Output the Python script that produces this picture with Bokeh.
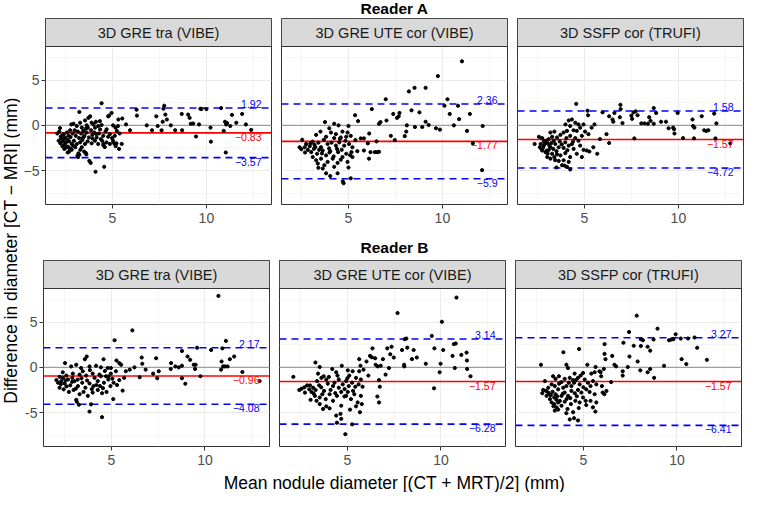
import math
from bokeh.plotting import figure
from bokeh.models import Range1d, FixedTicker, Span, Grid, LinearAxis
from bokeh.layouts import row, column
from bokeh.embed import file_html
from bokeh.resources import INLINE
from bokeh.core.properties import value

FONT = "Liberation Sans"

methods = ["3D GRE tra (VIBE)", "3D GRE UTE cor (VIBE)", "3D SSFP cor (TRUFI)"]
reader_titles = ["Reader A", "Reader B"]

upper_A = [1.92, 2.36, 1.58]
bias_A = [-0.83, -1.77, -1.57]
lower_A = [-3.57, -5.9, -4.72]
upper_B = [2.17, 3.14, 3.27]
bias_B = [-0.96, -1.57, -1.57]
lower_B = [-4.08, -6.28, -6.41]

x_ticks = [5, 10]
x_minor = [2.5, 7.5, 12.5]
y_ticks = [-5, 0, 5]
y_minor = [-7.5, -2.5, 2.5, 7.5]

# (mean diameter, difference) pairs
pts_A1 = [
    (4.43, 2.45), (4.96, 1.37), (4.83, 1.08), (5.53, 0.76), (5.32, 0.65), (5.73, 0.10), (5.94, -0.54),
    (6.29, 1.73), (6.31, 1.08), (6.83, 0.00), (7.11, -0.54), (7.34, 1.00), (7.41, -0.07), (7.62, -0.54),
    (7.68, 0.40), (7.76, 2.17), (7.72, 1.84), (7.82, 1.19), (7.90, 0.65), (8.11, 0.00), (8.34, -0.54),
    (8.69, 1.26), (8.71, -0.54), (9.03, 1.19), (9.11, 0.83), (9.17, 0.18), (9.30, 0.20), (9.45, -1.23),
    (9.61, 0.10), (9.68, 1.84), (9.73, 1.80), (10.00, 1.80), (10.22, -0.25), (10.24, -1.80), (10.78, 1.91),
    (10.92, -0.61), (10.99, 0.40), (11.05, 0.10), (11.10, 0.25), (11.03, -3.00), (11.27, -0.07),
    (11.36, 1.16), (11.59, 0.29), (11.90, 1.26), (12.10, 0.10), (12.38, -0.50),
    (4.11, -5.13), (4.57, -4.58), (3.78, -3.93), (3.85, -4.15), (3.20, -3.10), (3.15, -3.35), (3.25, -3.25),
    (3.18, -3.50), (3.50, -2.90), (3.59, -3.05), (3.62, -3.20), (2.70, -2.90), (2.63, -3.00), (2.84, -2.70),
    (4.53, -2.20), (4.60, -2.40), (4.53, -2.05), (5.06, -1.90), (5.15, -2.10), (5.18, -2.30), (5.36, -2.60),
    (5.50, -2.05), (2.08, -0.90), (2.22, -0.30),
    (3.25, 1.48), (3.82, 1.00), (3.73, 0.83), (3.55, 0.54), (3.90, 0.30), (4.13, 0.40), (4.34, 0.47),
    (4.78, 1.00), (2.82, 0.10), (2.94, 0.18), (3.11, -0.07), (3.29, 0.29), (3.38, -0.25), (3.64, 0.00),
    (3.70, -0.25), (4.00, 0.10), (4.08, -0.25), (4.25, -0.07), (4.43, 0.04), (4.70, -0.43), (5.04, 0.00),
    (5.17, -0.25), (5.30, -0.07), (5.24, -0.61),
    (2.18, -0.69), (2.32, -1.16), (2.29, -1.44), (2.41, -0.97), (2.50, -1.34), (2.59, -0.79), (2.68, -1.16),
    (2.76, -0.54), (2.89, -0.90), (3.00, -0.54), (3.06, -1.16), (3.17, -0.69), (3.24, -1.41), (3.34, -0.90),
    (3.46, -0.61), (3.52, -1.16), (3.64, -0.79), (3.76, -1.34), (3.87, -0.54), (3.94, -1.05), (4.04, -0.79),
    (4.17, -1.34), (4.29, -0.90), (4.39, -1.52), (4.52, -1.16), (4.64, -0.69), (4.78, -1.26), (4.87, -0.97),
    (4.99, -1.41), (5.13, -1.16), (5.39, -0.90),
    (2.15, -1.70), (2.24, -1.99), (2.36, -1.77), (2.47, -2.13), (2.54, -1.88), (2.64, -2.35), (2.71, -1.77),
    (2.85, -2.06), (2.96, -1.70), (3.03, -2.42), (3.11, -2.06), (3.29, -1.88), (3.38, -2.42), (3.41, -1.62),
    (3.55, -2.06), (3.69, -1.77), (3.90, -1.99), (4.08, -1.70), (4.25, -2.06), (4.46, -1.70), (4.69, -1.88),
    (4.87, -2.06), (5.04, -1.70), (5.22, -1.99),
    (2.40, -1.55), (2.55, -2.45), (2.62, -1.60), (2.78, -1.30), (2.92, -2.25), (2.35, -2.30), (2.45, -2.60),
    (2.75, -2.55), (3.30, -2.70), (3.45, -1.35), (3.95, -1.45), (4.15, -0.95), (4.35, -0.45), (3.60, -0.35),
    (2.26, -1.25),
]

pts_A2 = [
    (11.04, 7.08), (9.76, 5.45), (8.22, 3.75), (8.52, 4.15), (9.11, 4.15), (6.99, 2.89), (6.25, 1.80),
    (5.36, 1.12), (5.52, 0.47), (6.71, 0.36), (6.63, 0.18), (7.03, 0.54), (7.39, 1.26), (7.59, 0.83),
    (7.68, 1.00), (7.72, 1.37), (8.36, 1.66), (8.78, 1.44), (8.11, 0.00), (8.08, -0.69), (8.54, -0.18),
    (8.93, -0.18), (9.11, 0.40), (9.27, 0.04), (9.66, -0.32), (9.87, -0.47), (10.11, 2.17), (10.27, 2.89),
    (10.39, 1.26), (10.61, 0.00), (10.83, 2.17), (10.89, 0.69), (11.46, 1.26), (11.31, -0.61),
    (11.62, -1.99), (12.14, -0.07), (12.11, -4.95), (7.26, -1.16), (7.47, -1.62), (8.00, -1.19),
    (6.50, -1.77), (6.54, -2.96), (6.63, -2.92), (6.41, -2.96), (6.10, -3.68), (6.18, -2.96), (6.04, -1.99),
    (6.11, -0.90), (5.83, -1.44), (5.83, -2.78), (5.66, -1.44), (5.48, -2.85), (5.38, -1.62), (5.13, -5.85),
    (5.01, -4.66), (4.71, -6.20), (4.75, -6.40), (4.43, -5.30), (4.04, -5.60), (3.82, -5.30), (3.41, -4.69),
    (3.64, -4.77), (2.55, -1.59), (2.41, -2.42), (2.50, -2.64),
    (3.76, 0.36), (4.25, 0.18), (4.48, 0.00), (5.01, -0.07), (3.99, -0.32), (3.52, -0.69), (4.08, -0.79),
    (4.34, -0.97), (4.69, -0.69), (4.96, -0.79), (3.29, -1.05), (3.82, -1.26), (4.25, -1.41), (4.60, -1.34),
    (4.89, -1.26), (5.13, -1.16), (2.99, -1.99), (3.20, -2.13), (3.41, -1.91), (3.55, -2.42), (3.90, -2.06),
    (4.11, -1.91), (4.34, -2.24), (4.52, -1.88), (4.78, -2.24), (5.04, -2.06), (5.22, -2.42), (2.85, -2.71),
    (3.03, -2.96), (3.17, -2.60), (3.34, -3.14), (3.64, -2.78), (3.82, -3.32), (4.04, -2.85), (4.22, -3.43),
    (4.46, -2.96), (4.69, -3.50), (4.89, -3.14), (5.17, -2.96), (3.11, -3.50), (3.29, -3.86), (3.55, -3.68),
    (3.90, -4.04), (4.17, -3.68), (4.43, -4.15), (4.60, -3.79), (4.96, -4.04), (5.22, -3.50), (3.73, -4.40),
    (4.25, -4.58), (3.38, -4.22), (2.76, -2.06), (2.68, -2.42),
    (2.95, -2.30), (3.10, -1.80), (3.45, -2.70), (3.70, -1.60), (3.98, -2.55), (4.40, -2.60), (4.55, -1.50),
    (4.85, -1.70), (5.10, -3.30), (3.60, -3.10), (4.00, -3.00), (3.25, -2.40), (4.65, -2.70), (2.70, -3.00),
]

pts_A3 = [
    (4.57, 2.38), (5.17, 1.62), (5.20, 1.12), (5.97, 1.44), (6.32, 1.01), (6.60, 1.37), (6.92, 2.27),
    (6.93, 1.80), (6.89, 0.90), (6.50, 0.65), (6.54, 0.40), (7.03, 0.25), (7.50, 1.08), (7.54, 0.72),
    (7.62, 1.44), (7.73, 1.55), (7.83, 1.12), (8.03, 0.22), (8.20, 0.22), (8.45, 0.90), (8.38, 0.18),
    (8.52, 0.50), (8.69, 1.91), (8.69, 0.18), (8.82, 1.37), (9.08, 0.40), (9.34, 0.40), (9.48, -0.32),
    (9.72, -0.25), (9.77, -0.43), (9.79, -0.90), (9.96, 1.37), (10.25, -1.41), (10.75, 0.65),
    (10.78, -0.07), (10.83, -1.44), (10.85, -0.25), (11.24, 1.01), (11.37, -0.54), (11.48, -0.61),
    (11.59, -0.54), (11.90, 1.30), (11.97, -1.44), (12.02, 0.22), (12.76, -1.99), (7.66, -1.44),
    (6.32, -1.95), (6.18, -0.97), (5.83, -1.52), (5.69, -3.14), (5.54, 0.10), (5.39, -0.25), (5.13, -2.78),
    (5.27, -2.89), (4.96, -2.71), (5.48, -2.42), (4.87, -3.50), (4.25, -4.87), (4.08, -4.58), (3.95, -4.45),
    (3.52, -4.66), (2.36, -2.06),
    (4.17, 0.54), (4.34, 0.65), (4.52, 0.29), (4.69, 0.10), (4.96, 0.10), (4.78, -0.25), (4.00, 0.10),
    (4.25, -0.07), (4.43, -0.54), (4.60, -0.61), (4.08, -0.61), (5.04, -0.69), (5.22, -0.97), (4.87, -1.16),
    (3.90, -0.79), (3.73, -1.05), (4.25, -1.16), (4.52, -1.41), (4.69, -1.70), (3.55, -1.34), (3.29, -1.26),
    (3.11, -1.52), (2.59, -1.26), (2.76, -1.41), (2.99, -1.70), (3.38, -1.70), (3.69, -1.77), (3.99, -1.88),
    (4.34, -2.06), (4.78, -2.24), (2.68, -2.06), (2.85, -2.24), (3.06, -1.99), (3.20, -2.42), (3.46, -2.06),
    (3.64, -2.42), (3.90, -2.49), (4.17, -2.24), (4.43, -2.60), (2.76, -2.78), (2.94, -2.96), (3.11, -2.71),
    (3.29, -3.14), (3.52, -2.85), (3.73, -3.32), (3.99, -3.07), (4.25, -3.50), (4.60, -3.14), (3.03, -3.50),
    (3.20, -3.68), (3.41, -3.50), (3.64, -3.93), (3.90, -3.86), (4.17, -4.04), (3.82, -4.40), (2.64, -2.42),
    (2.85, -1.77), (3.20, -0.79), (3.41, -0.69),
    (2.80, -2.50), (2.90, -2.05), (3.00, -2.80), (3.15, -2.25), (3.35, -2.60), (3.55, -3.20), (2.72, -2.60),
    (3.05, -3.10), (3.25, -1.95), (3.80, -2.10), (4.05, -1.40), (4.40, -1.80), (4.10, -2.75), (3.45, -3.85),
]

pts_B1 = [
    (10.72, 7.90), (6.12, 4.09), (5.17, 3.00), (11.12, 2.93), (9.58, 2.17), (8.77, 1.81), (10.33, 1.92),
    (10.93, 2.10), (9.07, 1.20), (9.21, 0.83), (9.40, 0.29), (9.50, 0.29), (9.47, -0.18), (8.77, 0.18),
    (8.42, 0.10), (8.60, 0.00), (8.19, 0.47), (8.17, -0.18), (7.39, 1.01), (7.53, -0.43), (7.45, -1.20),
    (7.23, -0.69), (6.83, -0.25), (6.65, 0.40), (6.62, 1.09), (6.51, -1.09), (8.77, -1.20), (8.95, -1.81),
    (9.76, -0.98), (10.86, -0.25), (10.89, 0.65), (10.97, 0.10), (11.07, 0.10), (11.21, 0.10), (11.33, 0.90),
    (11.56, 1.20), (12.00, -0.51), (12.92, -1.52), (5.10, -3.51), (5.60, -2.57), (4.50, -5.51),
    (3.83, -4.89), (3.26, -4.13), (3.91, -4.09), (3.12, -3.59), (3.15, -3.80),
    (3.68, 1.20), (3.58, 0.90), (2.52, 0.47), (2.85, 0.10), (3.12, 0.29), (3.38, -0.07), (3.83, 0.10),
    (4.18, 0.18), (4.44, 0.00), (4.58, 0.90), (4.80, -0.07), (5.27, 0.76), (5.42, 0.47), (5.52, 0.29),
    (5.77, -0.43), (5.98, -0.25), (6.23, 0.00), (5.24, -0.43), (4.97, -0.69), (4.71, -0.98), (4.36, -0.80),
    (4.00, -0.69), (3.65, -0.91), (3.30, -0.80), (2.94, -0.69), (2.59, -0.91), (2.23, -1.05), (2.06, -1.41),
    (2.15, -1.70), (2.32, -1.52), (2.50, -1.78), (2.68, -1.34), (2.80, -1.99), (3.03, -1.52), (3.21, -2.07),
    (3.44, -1.70), (3.61, -2.25), (3.83, -1.78), (4.04, -2.07), (4.27, -1.52), (4.39, -2.07), (4.60, -1.70),
    (4.83, -1.34), (4.95, -2.07), (5.12, -1.70), (5.42, -1.41), (5.68, -1.16), (2.23, -2.25), (2.45, -2.43),
    (2.73, -2.72), (2.98, -2.50), (3.30, -2.97), (3.51, -2.72), (3.74, -3.15), (4.00, -2.79), (4.27, -2.50),
    (4.50, -2.86), (4.74, -2.72), (2.91, -1.16), (2.41, -1.16), (4.10, -1.16), (4.44, -0.98), (3.47, -0.43),
    (4.97, -0.07),
    (2.30, -1.85), (2.60, -2.10), (2.90, -1.60), (3.10, -2.35), (3.40, -1.20), (3.70, -1.45), (3.95, -2.40),
    (4.20, -1.95), (4.55, -2.30), (4.85, -1.00), (5.30, -1.95), (2.55, -1.45), (3.20, -1.35), (3.85, -0.30),
    (4.65, -0.40), (5.05, -1.25), (2.40, -0.55),
]

pts_B2 = [
    (10.83, 7.72), (10.05, 5.04), (7.68, 6.01), (9.51, 3.48), (8.06, 3.12), (8.15, 3.19), (9.65, 2.10),
    (10.12, 1.92), (10.62, 1.27), (10.69, 2.57), (10.79, 2.64), (11.09, 1.38), (11.37, 1.63), (11.39, 0.76),
    (11.40, -0.18), (11.58, -0.98), (10.74, -0.07), (9.98, 0.40), (9.93, -0.54), (9.63, -2.32), (9.19, 0.40),
    (8.71, 1.09), (8.45, 0.91), (8.54, 1.92), (8.20, 2.18), (7.92, 1.92), (8.03, 0.29), (8.04, 0.11),
    (7.36, 2.28), (7.13, 2.10), (7.29, 1.45), (7.48, 1.09), (7.22, -0.07), (6.90, 0.91), (7.04, -0.80),
    (6.62, 0.11), (6.78, 0.18), (6.34, 2.10), (6.21, 1.27), (6.30, 1.12), (6.48, 1.01), (6.51, 0.29),
    (6.02, 0.65), (6.12, -0.91), (6.69, -1.41), (6.73, -2.14), (6.60, -3.22), (6.69, -3.88), (5.70, 0.18),
    (5.63, 0.91), (5.86, -0.25), (5.25, -6.30), (4.89, -7.39), (4.44, -6.12), (4.67, -5.69), (4.63, -5.14),
    (4.40, -5.33), (2.11, -1.05), (2.43, -2.50),
    (3.29, 0.54), (3.52, 0.04), (4.70, 0.18), (4.19, -0.18), (4.40, -0.54), (4.47, -0.91), (5.02, -0.33),
    (5.10, -0.91), (5.28, -0.43), (5.46, -1.16), (5.63, -0.43), (5.72, -1.34), (3.43, -0.69), (3.61, -1.16),
    (3.73, -0.98), (3.87, -1.34), (4.01, -1.05), (4.31, -1.70), (4.54, -1.34), (4.75, -1.88), (4.93, -1.52),
    (5.07, -2.07), (5.25, -1.70), (5.42, -2.14), (5.60, -1.88), (5.81, -2.14), (3.38, -1.52), (3.49, -1.99),
    (2.85, -1.99), (2.96, -2.43), (3.08, -2.72), (3.17, -2.25), (3.26, -3.15), (3.52, -3.33), (3.66, -2.97),
    (3.84, -3.51), (4.05, -2.97), (4.23, -3.70), (4.44, -3.15), (4.67, -2.72), (4.84, -3.22), (5.02, -2.72),
    (5.19, -3.51), (5.37, -2.97), (5.55, -3.88), (5.72, -3.15), (5.77, -4.06), (5.14, -4.67), (3.87, -4.31),
    (4.05, -4.53), (3.70, -4.60), (3.52, -4.06), (3.35, -3.70), (2.55, -2.36), (2.73, -2.79), (3.03, -3.59),
    (4.23, -2.07), (4.54, -2.25), (4.93, -3.15), (4.67, -4.24), (5.46, -4.31), (5.67, -4.96),
    (2.70, -2.20), (3.00, -2.00), (3.30, -2.50), (3.60, -2.20), (3.95, -1.80), (4.10, -2.50), (4.85, -2.40),
    (5.30, -2.60), (3.75, -2.60), (4.35, -2.85), (5.00, -1.20), (3.20, -2.90),
]

pts_B3 = [
    (7.85, 5.72), (8.96, 4.28), (7.44, 3.91), (9.93, 3.66), (7.14, 2.72), (7.69, 2.39), (8.07, 3.12),
    (8.18, 3.00), (8.07, 2.36), (8.43, 2.28), (8.75, 3.08), (8.57, 1.85), (9.58, 3.00), (9.70, 3.08),
    (9.81, 3.12), (10.20, 3.19), (10.59, 3.19), (10.94, 3.30), (11.08, 2.17), (11.60, 0.83), (10.25, 0.91),
    (10.50, 0.36), (9.31, 0.18), (7.90, 0.65), (8.04, -0.33), (8.43, -0.54), (8.57, -0.18), (8.78, -1.16),
    (7.46, 1.20), (7.37, 0.04), (7.10, -0.43), (7.10, -0.91), (6.66, 0.29), (6.75, 0.11), (6.54, 1.27),
    (6.13, 2.57), (6.13, 1.49), (6.18, 0.91), (5.92, -0.54), (6.09, -0.18), (6.48, -1.63), (5.65, 0.04),
    (5.21, 0.29), (4.77, 2.03), (3.93, 1.67), (2.73, 0.29), (4.09, 0.29), (4.18, -0.07), (6.03, -2.79),
    (6.12, -2.97), (6.23, -2.61), (5.99, -2.07), (5.69, -3.88), (5.64, -4.89), (5.51, -4.42), (5.15, -4.17),
    (4.71, -5.87), (4.50, -5.62), (4.27, -5.76), (4.09, -5.07), (3.65, -4.67), (3.47, -4.78),
    (3.38, -0.98), (3.51, -1.27), (3.69, -0.98), (3.83, -1.63), (4.00, -1.27), (4.22, -1.70), (4.36, -2.07),
    (4.50, -1.70), (4.59, -1.41), (4.71, -1.16), (4.85, -0.91), (4.98, -0.62), (5.07, -1.34), (5.24, -1.70),
    (5.38, -2.07), (5.51, -1.52), (5.69, -1.88), (5.15, -2.43), (5.33, -2.72), (5.60, -2.97), (4.89, -2.79),
    (4.98, -3.33), (5.12, -3.70), (5.38, -3.70), (4.71, -2.50), (4.54, -2.86), (4.36, -2.61), (4.18, -3.15),
    (4.00, -2.79), (3.92, -2.25), (3.65, -2.43), (3.47, -2.07), (3.30, -1.88), (3.12, -2.25), (2.94, -1.52),
    (2.85, -2.50), (2.80, -2.86), (3.03, -3.15), (3.21, -3.51), (3.30, -3.88), (3.44, -4.06), (3.56, -4.42),
    (3.74, -3.70), (3.83, -4.24), (4.00, -3.80), (4.15, -4.60), (4.33, -4.06), (4.45, -4.96), (4.57, -3.70),
    (4.80, -3.88), (3.12, -2.79), (3.26, -3.08), (3.44, -3.33), (3.56, -3.59), (3.65, -3.88), (3.51, -2.97),
    (3.83, -3.15), (4.09, -2.07), (4.27, -1.16), (4.53, -0.69), (4.45, -1.41), (4.80, -1.88), (5.42, -0.69),
    (5.60, -0.54), (5.86, -0.43), (5.95, -0.98),
    (3.00, -2.60), (3.20, -3.00), (3.35, -2.70), (3.60, -3.20), (3.90, -2.90), (4.30, -3.40), (4.65, -3.20),
    (5.00, -2.20), (3.70, -1.80), (4.10, -3.50), (3.40, -4.30), (4.75, -4.50),
]

panel_points = [[pts_A1, pts_A2, pts_A3], [pts_B1, pts_B2, pts_B3]]
uppers = [upper_A, upper_B]
biases = [bias_A, bias_B]
lowers = [lower_A, lower_B]
x_ranges = [(1.45, 13.46), (1.37, 13.45)]
y_minus = ["\u2212", "-"]

FRAME_W = 226
PLOT_H = 158
STRIP_H = 28
Y_LO, Y_HI = -8.75, 8.72
TICK_FS = "14px"
STRIP_FS = "14.5px"
TITLE_FS = "17.5px"
HEAD_FS = "15.5px"
VAL_FS = "10.5px"
AX_B = 26


def fmt(v):
    return f"{v:g}".replace("-", "\u2212")


def make_panel(r, c):
    pts = panel_points[r][c]
    xr = x_ranges[r]
    ppu = PLOT_H / (Y_HI - Y_LO)
    y_top = Y_HI + STRIP_H / ppu
    mb_left = 23 if c == 0 else 5
    mb_right = 1 if c == 2 else 5
    p = figure(frame_width=FRAME_W, frame_height=PLOT_H + STRIP_H,
               x_range=Range1d(*xr), y_range=Range1d(Y_LO, y_top),
               y_axis_type=None, output_backend="svg", toolbar_location=None,
               title=None, min_border_left=mb_left, min_border_right=mb_right,
               min_border_top=0, min_border_bottom=AX_B,
               background_fill_color="white", border_fill_color="white")
    p.outline_line_color = "#333333"
    p.outline_line_width = 1

    # grids
    p.xgrid.ticker = FixedTicker(ticks=x_ticks, minor_ticks=x_minor)
    ygrid = Grid(dimension=1, ticker=FixedTicker(ticks=y_ticks, minor_ticks=y_minor))
    p.add_layout(ygrid, "center")
    for g in (p.xgrid[0], ygrid):
        g.grid_line_color = "#EBEBEB"
        g.grid_line_width = 1.1
        g.minor_grid_line_color = "#F0F0F0"
        g.minor_grid_line_width = 0.7

    # x axis
    ax = p.xaxis[0]
    ax.ticker = FixedTicker(ticks=x_ticks)
    ax.axis_line_color = None
    ax.major_tick_line_color = "#333333"
    ax.major_tick_out = 4
    ax.major_tick_in = 0
    ax.minor_tick_line_color = None
    ax.major_label_standoff = 4
    ax.major_label_text_font = FONT
    ax.major_label_text_font_size = TICK_FS
    ax.major_label_text_color = "#4D4D4D"

    if c == 0:
        m = y_minus[r]
        yax = LinearAxis(ticker=FixedTicker(ticks=y_ticks),
                         major_label_overrides={t: (m + str(abs(t)) if t < 0 else str(t)) for t in y_ticks})
        yax.axis_line_color = None
        yax.major_tick_line_color = "#333333"
        yax.major_tick_out = 4
        yax.major_tick_in = 0
        yax.minor_tick_line_color = None
        yax.major_label_standoff = 2
        yax.major_label_text_font = FONT
        yax.major_label_text_font_size = TICK_FS
        yax.major_label_text_color = "#4D4D4D"
        p.add_layout(yax, "left")

    # reference lines
    up, mid, lo = uppers[r][c], biases[r][c], lowers[r][c]
    p.add_layout(Span(location=0, dimension="width", line_color="#9E9E9E",
                      line_width=1.3, level="underlay"))
    p.add_layout(Span(location=mid, dimension="width", line_color="#FF0000",
                      line_width=1.6, level="underlay"))
    for v in (up, lo):
        p.add_layout(Span(location=v, dimension="width", line_color="#0000FF",
                          line_width=1.6, line_dash="7 5", level="underlay"))

    # points
    xs = [q[0] for q in pts]
    ys = [q[1] for q in pts]
    p.scatter(xs, ys, size=3.2, color="black", line_color="black")

    # value labels
    p.text(x=[xr[1]], y=[up], text=[fmt(up)], x_offset=-10, text_align="right",
           text_baseline="bottom", text_font=value(FONT), text_font_size=VAL_FS,
           text_color="#0000FF")
    p.text(x=[xr[1]], y=[mid], text=[fmt(mid)], x_offset=-10, text_align="right",
           text_baseline="top", text_font=value(FONT), text_font_size=VAL_FS,
           text_color="#FF0000")
    p.text(x=[xr[1]], y=[lo], text=[fmt(lo)], x_offset=-10, text_align="right",
           text_baseline="top", text_font=value(FONT), text_font_size=VAL_FS,
           text_color="#0000FF")

    # strip
    p.quad(left=[xr[0]], right=[xr[1]], bottom=[Y_HI], top=[y_top],
           fill_color="#D9D9D9", line_color="#333333", line_width=1)
    p.text(x=[(xr[0] + xr[1]) / 2], y=[(Y_HI + y_top) / 2], text=[methods[c]],
           text_align="center", text_baseline="middle", text_font=value(FONT),
           text_font_size=STRIP_FS, text_color="#1A1A1A")
    return p


def text_fig(w, h, txt, x, y_from_top, size, style="normal", angle=0.0):
    f = figure(width=w, height=h, x_range=Range1d(0, w), y_range=Range1d(0, h),
               x_axis_type=None, y_axis_type=None, toolbar_location=None,
               output_backend="svg", min_border=0, title=None,
               background_fill_color="white", border_fill_color="white")
    f.outline_line_color = None
    f.text(x=[x], y=[h - y_from_top], text=[txt], angle=angle, text_align="center",
           text_baseline="middle", text_font=value(FONT), text_font_size=size,
           text_font_style=style, text_color="black")
    return f


YT_W = 20
COL_W = 720
center_x = 374
titleA = text_fig(COL_W, 18, reader_titles[0], center_x, 8, HEAD_FS, "bold")
rowA = row(*[make_panel(0, c) for c in range(3)])
titleB = text_fig(COL_W, 30, reader_titles[1], center_x, 17, HEAD_FS, "bold")
rowB = row(*[make_panel(1, c) for c in range(3)])
xtitle = text_fig(COL_W, 20, "Mean nodule diameter [(CT + MRT)/2] (mm)", center_x, 10, TITLE_FS)
ytitle = text_fig(YT_W, 492, "Difference in diameter [CT \u2212 MRI] (mm)", 10, 250, TITLE_FS,
                  angle=math.pi / 2)

layout = row(ytitle, column(titleA, rowA, titleB, rowB, xtitle))

open("out.html", "w").write(file_html(layout, INLINE))
